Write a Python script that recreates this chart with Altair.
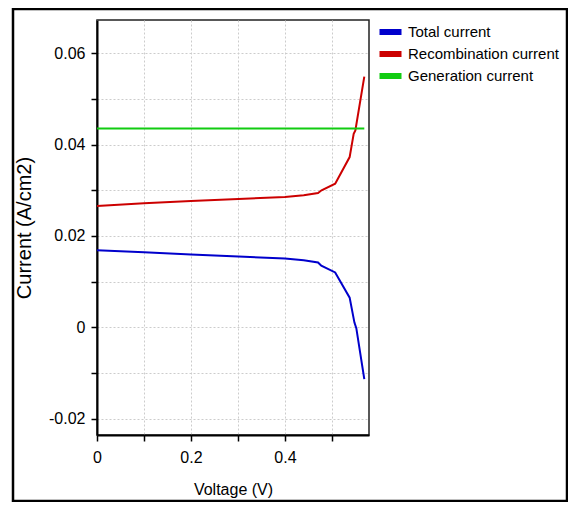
import altair as alt
import pandas as pd

# ---- data ----
series_names = ["Total current", "Recombination current", "Generation current"]
series_colors = ["#0000cc", "#cc0000", "#11cc11"]

total_v = [0.0, 0.1, 0.2, 0.4, 0.44, 0.4705, 0.4775, 0.507, 0.5378, 0.548, 0.552, 0.569]
total_i = [0.01689, 0.01645, 0.01594, 0.01507, 0.0147, 0.0142, 0.01347, 0.0120, 0.00648, 0.00102, -0.0002, -0.01136]

recomb_v = [0.0, 0.1, 0.2, 0.4, 0.44, 0.4705, 0.478, 0.507, 0.5378, 0.5464, 0.550, 0.569]
recomb_i = [0.02657, 0.02715, 0.02766, 0.02854, 0.0289, 0.02941, 0.0300, 0.03145, 0.03727, 0.04237, 0.0431, 0.0549]

gen_v = [0.0, 0.569]
gen_i = [0.04353, 0.04353]

y_ticks = [-0.02, -0.01, 0.0, 0.01, 0.02, 0.03, 0.04, 0.05, 0.06]
x_ticks = [0.0, 0.1, 0.2, 0.3, 0.4, 0.5]

rows = []
for name, vs, cs in [(series_names[0], total_v, total_i),
                     (series_names[1], recomb_v, recomb_i),
                     (series_names[2], gen_v, gen_i)]:
    for k, (v, c) in enumerate(zip(vs, cs)):
        rows.append({"series": name, "V": v, "I": c, "order": k})
df = pd.DataFrame(rows)

FONT = "Liberation Sans"

lines = alt.Chart(df).mark_line(strokeWidth=2, clip=True).encode(
    x=alt.X("V:Q",
            scale=alt.Scale(domain=[0, 0.579], nice=False, zero=False),
            axis=alt.Axis(values=x_ticks, title="Voltage (V)",
                          labelExpr="round(datum.value*10) % 2 == 0 ? toString(round(datum.value*10)/10) : ''",
                          labelFlush=False, labelPadding=8, titlePadding=16)),
    y=alt.Y("I:Q",
            scale=alt.Scale(domain=[-0.0236, 0.0673], nice=False, zero=False),
            axis=alt.Axis(values=y_ticks, title="Current (A/cm2)",
                          labelExpr="abs(round(datum.value*100)) % 2 == 0 ? toString(round(datum.value*100)/100) : ''",
                          labelPadding=6, titlePadding=14, titleFontSize=20)),
    color=alt.Color("series:N",
                    scale=alt.Scale(domain=series_names, range=series_colors),
                    legend=alt.Legend(title=None, orient="none", legendX=279.5, legendY=1,
                                      symbolType="M-1,0H3", symbolStrokeWidth=6, symbolSize=121,
                                      labelFontSize=15, labelFont=FONT, labelColor="black",
                                      labelLimit=400, labelOffset=14.5, rowPadding=0,
                                      clipHeight=22, padding=0)),
    detail="series:N",
    order="order:Q",
)

frame = alt.Chart(alt.Data(values=[{}])).mark_rect(
    fill=None, stroke="black", strokeWidth=2.5, clip=False
).encode(
    x=alt.value(-84), x2=alt.value(470), y=alt.value(-11), y2=alt.value(481)
)

chart = alt.layer(lines, frame).properties(
    width=272, height=415,
    background="white",
    autosize=alt.AutoSizeParams(type="none"),
    padding={"left": 89, "top": 12, "right": 199, "bottom": 67},
).configure_view(
    stroke="#222222", strokeWidth=1.5
).configure_axis(
    domainColor="black", domainWidth=2, tickColor="black", tickWidth=1.5, tickSize=6,
    gridColor="#cccccc", gridDash=[2, 2], gridWidth=1,
    labelFont=FONT, labelFontSize=16, labelColor="black",
    titleFont=FONT, titleFontSize=16, titleColor="black", titleFontWeight="normal",
)

chart.save("out.html", embed_options={"renderer": "svg", "actions": False})
